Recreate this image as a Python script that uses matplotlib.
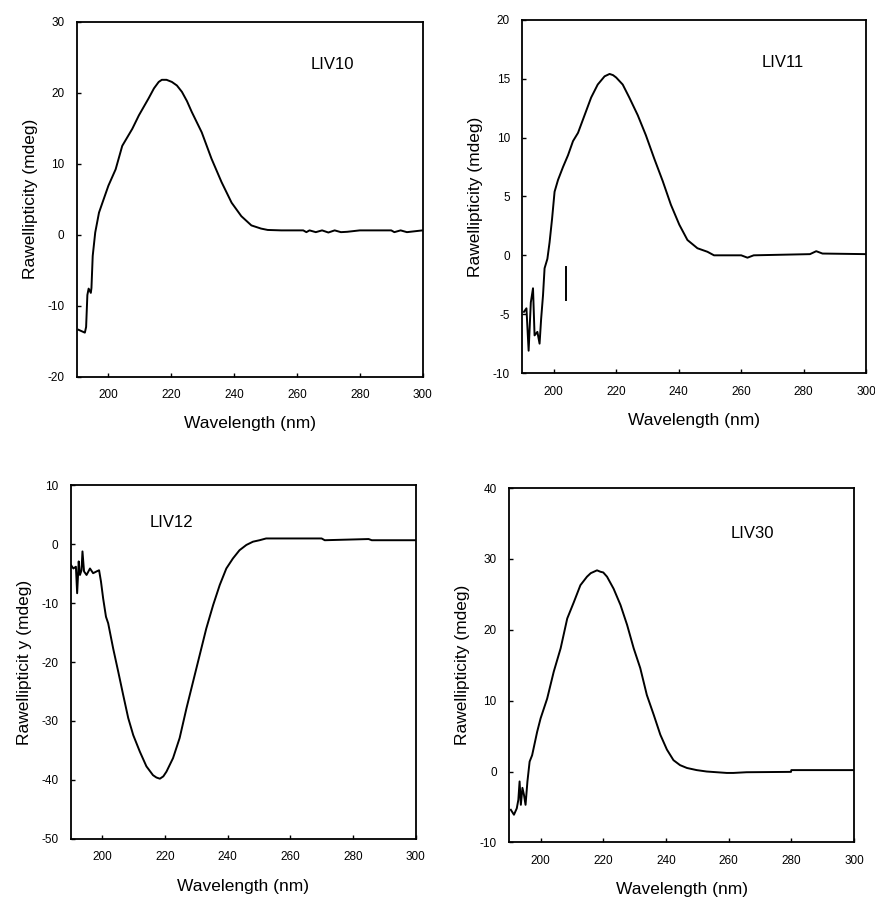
import matplotlib
matplotlib.use("Agg")
import matplotlib.pyplot as plt

plt.rcParams['font.family'] = ['Liberation Sans', 'DejaVu Sans']
plt.rcParams['axes.unicode_minus'] = False

# LIV10
wl_10 = [190.5, 191.5, 192.5, 192.9, 193.3, 193.7, 194.4, 194.6, 195.0, 195.8, 197.0, 198.1,
         200.0, 202.3, 204.4, 207.6, 209.7, 212.8, 214.5, 216.0, 217.0, 218.5, 220.2, 221.8,
         223.4, 225.0, 226.5, 229.7, 232.8, 236.0, 239.2, 242.3, 245.5, 248.6, 250.7, 255.0,
         262.0, 263.0, 264.0, 266.0, 268.0, 270.0, 272.0, 274.0, 276.0, 280.0, 290.0, 291.0,
         293.0, 295.0, 300.0]
cd_10 = [-13.4, -13.6, -13.8, -13.0, -8.5, -7.6, -8.2, -7.5, -3.0, 0.3, 3.1, 4.5,
         6.9, 9.2, 12.5, 14.9, 16.8, 19.2, 20.6, 21.5, 21.8, 21.8, 21.5, 21.0,
         20.1, 18.8, 17.3, 14.4, 10.7, 7.4, 4.5, 2.6, 1.3, 0.85, 0.66, 0.6,
         0.6, 0.35, 0.6, 0.35, 0.6, 0.3, 0.6, 0.35, 0.4, 0.6, 0.6, 0.35,
         0.6, 0.35, 0.6]

# LIV11
wl_11 = [190.5, 191.3, 192.0, 192.7, 193.4, 193.9, 194.8, 195.5, 196.0, 196.6, 197.1, 198.0,
         198.7, 199.5, 200.3, 201.4, 203.0, 204.6, 206.2, 207.8, 209.9, 212.0, 214.1,
         216.3, 217.9, 219.0, 220.0, 222.1, 224.2, 226.9, 229.5, 232.2, 234.9, 237.5, 240.2,
         242.8, 246.0, 249.2, 251.3, 260.0, 262.0, 264.0, 282.0, 284.0, 286.0, 300.0]
cd_11 = [-4.8, -4.5, -8.1, -4.0, -2.8, -6.8, -6.5, -7.5, -5.4, -3.4, -1.1, -0.3,
         1.1, 3.1, 5.4, 6.4, 7.5, 8.5, 9.7, 10.4, 11.9, 13.4, 14.5,
         15.2, 15.4, 15.3, 15.1, 14.5, 13.4, 11.9, 10.2, 8.2, 6.3, 4.3, 2.6,
         1.3, 0.6, 0.3, 0.0, 0.0, -0.2, 0.0, 0.1, 0.35, 0.15, 0.1]
# stray vertical trace near 204 nm
wl_11b = [204.0, 204.0]
cd_11b = [-1.0, -3.8]

# LIV12
wl_12 = [190.0, 190.8, 191.6, 192.0, 192.5, 192.9, 193.4, 193.7, 194.2, 195.0, 196.1,
         197.1, 198.2, 199.0, 199.6, 200.3, 201.2, 201.9, 203.5, 205.1, 206.7, 208.3,
         209.9, 212.0, 214.1, 216.2, 217.3, 218.4, 219.5, 220.5, 222.6, 224.7, 226.9, 229.0,
         231.1, 233.2, 235.4, 237.5, 239.6, 241.7, 243.8, 246.0, 248.1, 250.2, 252.3, 270.0,
         271.0, 285.0, 286.0, 300.0]
cd_12 = [-3.5, -4.1, -3.8, -8.3, -2.9, -5.2, -4.4, -1.2, -4.6, -5.2, -4.1,
         -4.9, -4.6, -4.4, -6.3, -9.2, -12.3, -13.4, -17.7, -21.6, -25.6, -29.5,
         -32.4, -35.2, -37.7, -39.2, -39.6, -39.8, -39.4, -38.6, -36.3, -32.9, -27.8, -23.3,
         -18.8, -14.3, -10.3, -6.9, -4.1, -2.4, -1.0, -0.1, 0.45, 0.7, 1.0, 1.0,
         0.7, 0.9, 0.7, 0.7]

# LIV30
wl_30 = [190.5, 191.5, 192.4, 192.9, 193.3, 193.7, 194.2, 194.7, 195.2, 195.8, 196.5,
         197.3, 198.9, 200.0, 202.1, 204.2, 206.4, 208.5, 210.6, 212.7, 214.8, 216.0, 217.0,
         218.0, 219.1, 220.0, 221.2, 223.3, 225.5, 227.6, 229.7, 231.8, 233.9, 236.1, 238.2,
         240.3, 242.4, 244.5, 246.7, 249.8, 253.0, 256.2, 259.4, 261.5, 263.6, 265.7, 279.9,
         280.0, 300.0]
cd_30 = [-5.4, -6.1, -5.2, -4.0, -1.4, -4.7, -2.3, -3.3, -4.7, -1.4, 1.4,
         2.3, 5.6, 7.5, 10.3, 14.1, 17.4, 21.6, 23.9, 26.3, 27.5, 28.0, 28.2,
         28.4, 28.2, 28.1, 27.5, 25.8, 23.5, 20.7, 17.4, 14.6, 10.8, 8.0, 5.2,
         3.1, 1.6, 0.9, 0.5, 0.2, 0.0, -0.1, -0.2, -0.2, -0.15, -0.1, -0.05,
         0.2, 0.2]

panels = [
    # rect, wl, cd, ylim, yticks, name, name pos, ylabel
    ([0.088, 0.581, 0.395, 0.395], wl_10, cd_10, (-20, 30), range(-20, 31, 10), "LIV10", (0.74, 0.88),
     "Rawellipticity (mdeg)"),
    ([0.597, 0.585, 0.393, 0.393], wl_11, cd_11, (-10, 20), range(-10, 21, 5), "LIV11", (0.756, 0.878),
     "Rawellipticity (mdeg)"),
    ([0.081, 0.067, 0.394, 0.393], wl_12, cd_12, (-50, 10), range(-50, 11, 10), "LIV12", (0.293, 0.895),
     "Rawellipticit y (mdeg)"),
    ([0.582, 0.063, 0.394, 0.394], wl_30, cd_30, (-10, 40), range(-10, 41, 10), "LIV30", (0.704, 0.873),
     "Rawellipticity (mdeg)"),
]

fig = plt.figure(figsize=(8.75, 8.99), dpi=100)

for rect, wl, cd, ylim, yticks, name, npos, ylab in panels:
    ax = fig.add_axes(rect)
    ax.plot(wl, cd, color='black', linewidth=1.4)
    if name == "LIV11":
        ax.plot(wl_11b, cd_11b, color='black', linewidth=1.4)
    ax.set_xlim(190, 300)
    ax.set_ylim(*ylim)
    ax.set_xticks([200, 220, 240, 260, 280, 300])
    ax.set_yticks(list(yticks))
    ax.tick_params(direction='in', length=3, width=1, labelsize=8.5, pad=9)
    for sp in ax.spines.values():
        sp.set_linewidth(1.3)
    ax.set_xlabel("Wavelength (nm)", fontsize=12.5, labelpad=11)
    ax.set_ylabel(ylab, fontsize=12.5, labelpad=7)
    ax.text(npos[0], npos[1], name, transform=ax.transAxes, fontsize=12,
            ha='center', va='center')

plt.savefig("out.png", dpi=100)
